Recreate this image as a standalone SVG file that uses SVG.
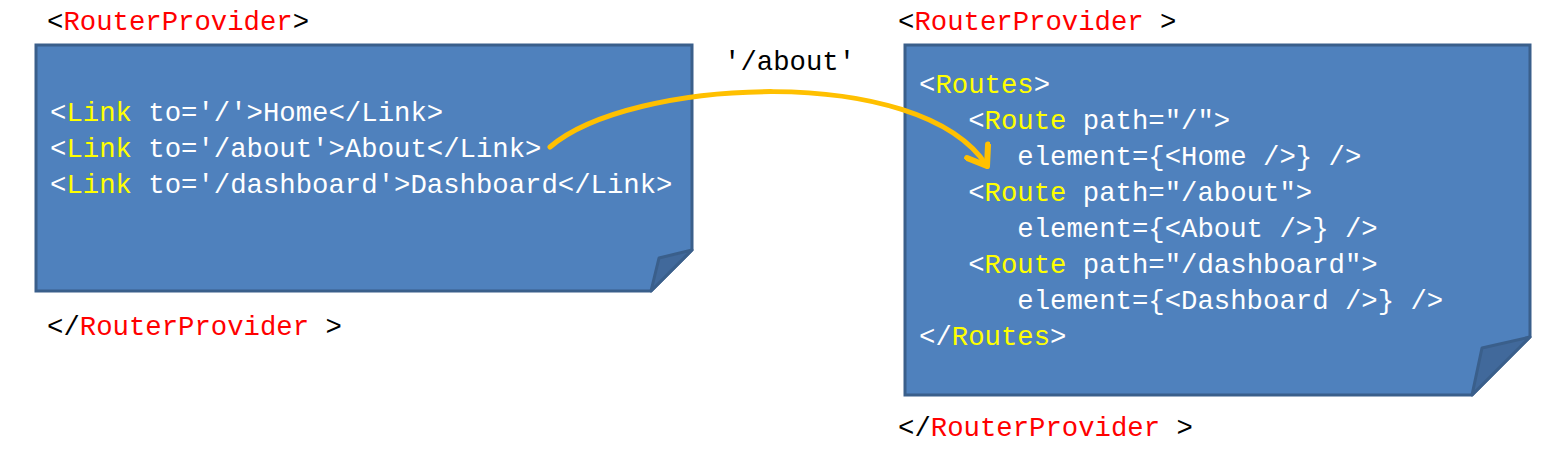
<svg xmlns="http://www.w3.org/2000/svg" width="1556" height="453" viewBox="0 0 1556 453">
<defs>
<style>
text{font-family:"Liberation Mono","DejaVu Sans Mono",monospace;font-size:27.3px;white-space:pre}
.w{fill:#ffffff}.y{fill:#ffff00}.r{fill:#ff0000}.k{fill:#000000}
.box{fill:#4f81bd;stroke:#3a5f8b;stroke-width:3;stroke-linejoin:miter}
.fold{fill:#41699b;stroke:#3a5f8b;stroke-width:3;stroke-linejoin:round}
.conn{fill:none;stroke:#ffc000;stroke-width:5;stroke-linecap:round}
</style>
<marker id="ah" viewBox="0 0 12 12" refX="9" refY="6" markerWidth="6" markerHeight="6" orient="auto" markerUnits="strokeWidth">
<path d="M2,1 L9,6 L2,11" fill="none" stroke="#ffc000" stroke-width="2.4" stroke-linecap="round" stroke-linejoin="round"/>
</marker>
</defs>
<g id="left-node">
<path class="box" d="M36,45 H692 V250 L651,291 H36 Z"/>
<path class="fold" d="M692,250 L659,258 L651,291 Z"/>
<text x="50" y="121"><tspan class="w">&lt;</tspan><tspan class="y">Link</tspan><tspan class="w"> to='/'&gt;Home&lt;/Link&gt;</tspan></text>
<text x="50" y="157"><tspan class="w">&lt;</tspan><tspan class="y">Link</tspan><tspan class="w"> to='/about'&gt;About&lt;/Link&gt;</tspan></text>
<text x="50" y="193"><tspan class="w">&lt;</tspan><tspan class="y">Link</tspan><tspan class="w"> to='/dashboard'&gt;Dashboard&lt;/Link&gt;</tspan></text>
</g>
<g id="left-provider">
<text x="47" y="30"><tspan class="k">&lt;</tspan><tspan class="r">RouterProvider</tspan><tspan class="k">&gt;</tspan></text>
<text x="47" y="335"><tspan class="k">&lt;/</tspan><tspan class="r">RouterProvider</tspan><tspan class="k"> &gt;</tspan></text>
</g>
<g id="right-node">
<path class="box" d="M905,45 H1530 V337 L1472,395 H905 Z"/>
<path class="fold" d="M1530,337 L1482,348 L1472,395 Z"/>
<text x="919" y="93"><tspan class="w">&lt;</tspan><tspan class="y">Routes</tspan><tspan class="w">&gt;</tspan></text>
<text x="919" y="129"><tspan class="w">   &lt;</tspan><tspan class="y">Route</tspan><tspan class="w"> path="/"&gt;</tspan></text>
<text x="919" y="165" class="w">      element={&lt;Home /&gt;} /&gt;</text>
<text x="919" y="201"><tspan class="w">   &lt;</tspan><tspan class="y">Route</tspan><tspan class="w"> path="/about"&gt;</tspan></text>
<text x="919" y="237" class="w">      element={&lt;About /&gt;} /&gt;</text>
<text x="919" y="273"><tspan class="w">   &lt;</tspan><tspan class="y">Route</tspan><tspan class="w"> path="/dashboard"&gt;</tspan></text>
<text x="919" y="309" class="w">      element={&lt;Dashboard /&gt;} /&gt;</text>
<text x="919" y="345"><tspan class="w">&lt;/</tspan><tspan class="y">Routes</tspan><tspan class="w">&gt;</tspan></text>
</g>
<g id="right-provider">
<text x="898" y="30"><tspan class="k">&lt;</tspan><tspan class="r">RouterProvider</tspan><tspan class="k"> &gt;</tspan></text>
<text x="898" y="436"><tspan class="k">&lt;/</tspan><tspan class="r">RouterProvider</tspan><tspan class="k"> &gt;</tspan></text>
</g>
<g id="connectors">
<path class="conn" d="M550,147 C630,78 920,62 987,166" marker-end="url(#ah)"/>
<text x="724" y="70" class="k">'/about'</text>
</g>
</svg>
